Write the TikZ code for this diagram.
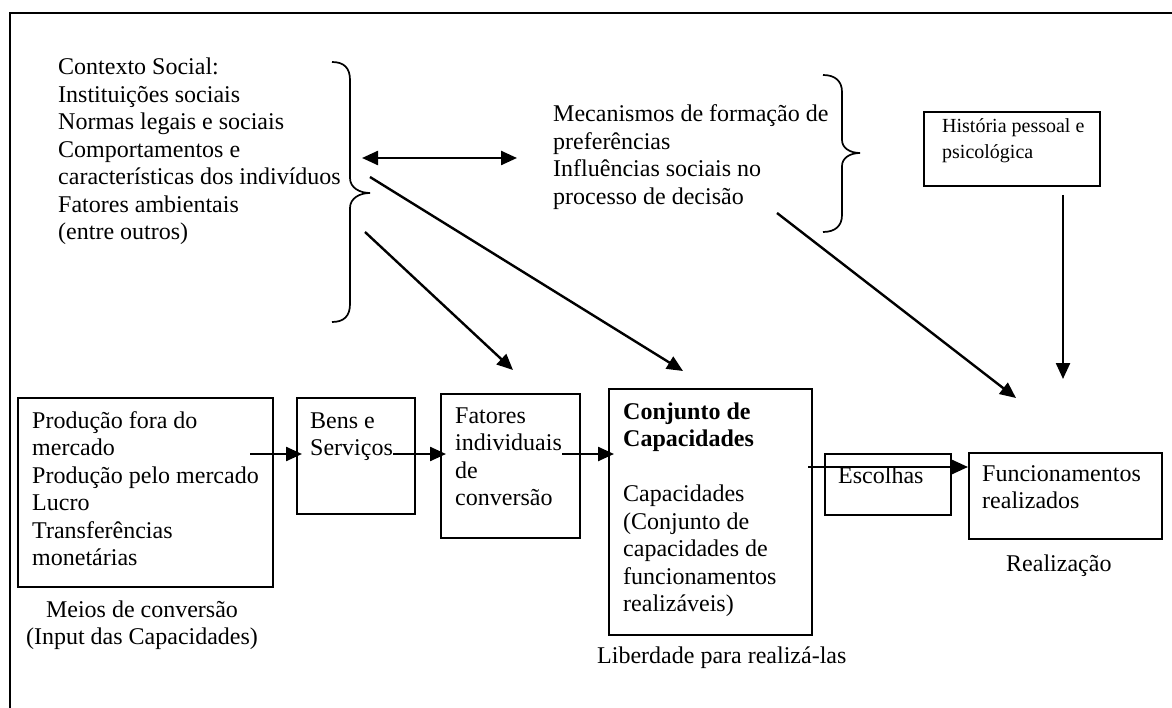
\documentclass[tikz,border=0pt]{standalone}
\usepackage{fontspec}
\setmainfont{Liberation Serif}
\usetikzlibrary{arrows.meta}
\newcommand{\txtblock}[2][420pt]{\parbox[t]{#1}{\raggedright #2}}
\newcommand{\ctrblock}[2][320pt]{\parbox[t]{#1}{\centering #2}}
\tikzset{
  box/.style={draw, rectangle, line width=2pt, inner sep=0pt},
  txt/.style={inner sep=0pt, anchor=base west, font=\fontsize{24pt}{27.5pt}\selectfont},
  smalltxt/.style={inner sep=0pt, anchor=base west, font=\fontsize{20pt}{25.5pt}\selectfont},
  ctxt/.style={inner sep=0pt, anchor=base, font=\fontsize{24pt}{27.5pt}\selectfont},
  arr/.style={-{Triangle[length=16pt,width=14pt]}, line width=2.4pt},
  overshoot/.style={shorten >=-6pt},
  darr/.style={{Triangle[length=16pt,width=14pt]}-{Triangle[length=16pt,width=14pt]}, line width=2.4pt},
  bracepath/.style={line width=1.7pt}
}
\begin{document}
\begin{tikzpicture}[x=1pt,y=-1pt]
\useasboundingbox (0,0) rectangle (1172,708);
% outer frame (cut at right and bottom)
\draw[line width=2.2pt] (1175,13) -- (10,13) -- (10,711);

% ---- top texts ----
\node[txt] (ctx) at (58,75) {\txtblock{Contexto Social:\\Instituições sociais\\Normas legais e sociais\\Comportamentos e\\características dos indivíduos\\Fatores ambientais\\(entre outros)}};
\node[txt] (mec) at (553,122) {\txtblock{Mecanismos de formação de\\preferências\\Influências sociais no\\processo de decisão}};

% braces
\draw[bracepath] (332,62) .. controls (344,62) and (350,68) .. (350,80) -- (350,178)
  .. controls (350,188) and (360,193) .. (370,193)
  .. controls (360,193) and (350,198) .. (350,208) -- (350,304)
  .. controls (350,316) and (344,322) .. (332,322);
\draw[bracepath] (823,75) .. controls (835,75) and (842,81) .. (842,92) -- (842,140)
  .. controls (842,148) and (850,153) .. (860,153)
  .. controls (850,153) and (842,158) .. (842,166) -- (842,215)
  .. controls (842,226) and (835,232) .. (823,232);

% history box
\node[box, minimum width=176pt, minimum height=74pt] (hist) at (1012,149) {};
\node[smalltxt] (histtxt) at (942,133) {\txtblock[160pt]{História pessoal e\\psicológica}};

% ---- bottom boxes ----
\node[box, minimum width=255pt, minimum height=189pt] (prod) at (145.5,492.5) {};
\node[txt] (prodtxt) at (32,428) {\txtblock[240pt]{Produção fora do\\mercado\\Produção pelo mercado\\Lucro\\Transferências\\monetárias}};

\node[box, minimum width=118pt, minimum height=116pt] (bens) at (356,456) {};
\node[txt] (benstxt) at (310,428) {\txtblock[110pt]{Bens e\\Serviços}};

\node[box, minimum width=139pt, minimum height=144pt] (fat) at (510.5,466) {};
\node[txt] (fattxt) at (455,423) {\txtblock[130pt]{Fatores\\individuais\\de\\conversão}};

\node[box, minimum width=203pt, minimum height=246pt] (conj) at (710.5,512) {};
\node[txt] (conjtxt) at (623,419) {\txtblock[190pt]{\textbf{Conjunto de}\\\textbf{Capacidades}\\[27.5pt]Capacidades\\(Conjunto de\\capacidades de\\funcionamentos\\realizáveis)}};

\node[box, minimum width=126pt, minimum height=61pt] (esc) at (888,484.5) {};
\node[txt] (esctxt) at (838,483) {Escolhas};

\node[box, minimum width=193pt, minimum height=86pt] (func) at (1065.5,496) {};
\node[txt] (functxt) at (982,481) {\txtblock[180pt]{Funcionamentos\\realizados}};

% captions
\node[ctxt] (meios) at (142,617) {\ctrblock{Meios de conversão\\(Input das Capacidades)}};
\node[txt] (lib) at (597,663) {Liberdade para realizá-las};
\node[txt] (real) at (1006,571) {Realização};

% ---- connectors ----
\coordinate (a1) at (250,454);
\coordinate (a2) at (393,454);
\coordinate (a3) at (562,454);
\coordinate (a4) at (808,467);
\draw[arr, overshoot] (a1) -- (a1 -| bens.west);
\draw[arr, overshoot] (a2) -- (a2 -| fat.west);
\draw[arr, overshoot] (a3) -- (a3 -| conj.west);
\draw[arr] (a4) -- (a4 -| func.west);

\coordinate (dbl1) at (362,158);
\coordinate (dbl2) at (517,158);
\draw[darr] (dbl1) -- (dbl2);

\coordinate (d1s) at (370,177);
\coordinate (d1e) at (683,371);
\draw[arr] (d1s) -- (d1e);
\coordinate (d2s) at (365,232);
\coordinate (d2e) at (513,370);
\draw[arr] (d2s) -- (d2e);
\coordinate (d3s) at (777,213);
\coordinate (d3e) at (1016,398);
\draw[arr] (d3s) -- (d3e);
\coordinate (v1) at (1063,195);
\coordinate (v2) at (1063,379);
\draw[arr] (v1) -- (v2);
\end{tikzpicture}
\end{document}
